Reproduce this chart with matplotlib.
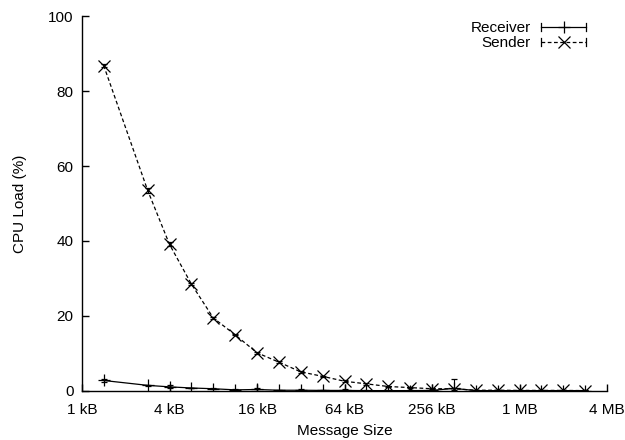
import matplotlib
matplotlib.use("Agg")
from matplotlib import pyplot as plt
from matplotlib.legend_handler import HandlerBase
from matplotlib.lines import Line2D

plt.rcParams['font.family'] = ['Liberation Sans', 'DejaVu Sans']

# message sizes in kB (two per octave)
sizes = [1.41, 2.83, 4, 5.66, 8, 11.3, 16, 22.6, 32, 45.3, 64, 90.5,
         128, 181, 256, 362, 512, 724, 1024, 1448, 2048, 2896]

sender = [86.8, 53.5, 39.1, 28.5, 19.5, 15.0, 10.2, 7.7, 5.1, 3.9, 2.6, 1.9,
          1.2, 0.9, 0.6, 0.6, 0.2, 0.2, 0.15, 0.15, 0.15, 0.1]
sender_err = [0.3, 0.6, 0.5, 0.3, 0.3, 0.2, 0.3, 0.2, 0.2, 0.2, 0.2, 0.2,
              0.2, 0.2, 0.2, 0.3, 0.1, 0.1, 0.1, 0.1, 0.1, 0.1]

receiver = [2.8, 1.5, 1.1, 0.8, 0.6, 0.3, 0.4, 0.2, 0.2, 0.15, 0.15, 0.1,
            0.1, 0.1, 0.15, 0.7, 0.1, 0.1, 0.1, 0.1, 0.1, 0.1]
receiver_err = [0.4, 0.1, 0.4, 0.1, 0.2, 0.1, 0.3, 0.1, 0.2, 0.1, 0.3, 0.1,
                0.2, 0.1, 0.1, 2.6, 0.1, 0.1, 0.1, 0.1, 0.1, 0.1]

tick_pos = [1, 4, 16, 64, 256, 1024, 4096]
tick_labels = ["1 kB", "4 kB", "16 kB", "64 kB", "256 kB", "1 MB", "4 MB"]


# gnuplot-like legend sample: line with caps at both ends and marker in middle
class ErrLineHandler(HandlerBase):
	def __init__(self, marker, ls):
		super().__init__()
		self.marker = marker
		self.ls = ls

	def create_artists(self, legend, orig_handle, xdescent, ydescent,
	                   width, height, fontsize, trans):
		y = height / 2 - ydescent
		cap = height * 0.35
		x0, x1 = -xdescent, width - xdescent
		line = Line2D([x0, x1], [y, y], color="black", lw=0.9, ls=self.ls,
		              dashes=(3, 2) if self.ls == "--" else (None, None))
		c1 = Line2D([x0, x0], [y - cap, y + cap], color="black", lw=0.9)
		c2 = Line2D([x1, x1], [y - cap, y + cap], color="black", lw=0.9)
		m = Line2D([(x0 + x1) / 2], [y], marker=self.marker, color="black",
		           ms=9 if self.marker == "x" else 8, mew=0.9, ls="none")
		for a in (line, c1, c2, m):
			a.set_transform(trans)
		return [line, c1, c2, m]


fig = plt.figure(figsize=(6.25, 4.4), dpi=100)
ax = fig.add_axes([0.1312, 0.1114, 0.84, 0.8522])

r = ax.errorbar(sizes, receiver, yerr=receiver_err, color="black", lw=0.9,
                marker="+", ms=8, mew=0.9, capsize=2.5, elinewidth=0.8,
                capthick=0.8)
s = ax.errorbar(sizes, sender, yerr=sender_err, color="black", lw=0.9,
                ls=(0, (3, 2)), marker="x", ms=9, mew=0.9, capsize=2.5,
                elinewidth=0.8, capthick=0.8)

ax.set_xscale("log", base=2)
ax.set_xlim(1, 4096)
ax.set_ylim(0, 100)
ax.set_xticks(tick_pos)
ax.set_xticklabels(tick_labels)
ax.minorticks_off()
ax.set_yticks([0, 20, 40, 60, 80, 100])

for side in ("top", "right"):
	ax.spines[side].set_visible(False)
for side in ("left", "bottom"):
	ax.spines[side].set_linewidth(1.0)
ax.tick_params(direction="in", length=5, width=1.0, labelsize=11)
ax.tick_params(axis="x", pad=9)
ax.tick_params(axis="y", pad=6)

ax.set_xlabel("Message Size", fontsize=11, labelpad=5)
ax.set_ylabel("CPU Load (%)", fontsize=11, labelpad=15)

h1 = Line2D([], [])
h2 = Line2D([], [])
ax.legend([h1, h2], ["Receiver", "Sender"], loc="upper right",
          bbox_to_anchor=(0.977, 1.01), frameon=False, markerfirst=False,
          fontsize=11, handlelength=2.9, handletextpad=0.7, labelspacing=0.05,
          borderaxespad=0.2,
          handler_map={h1: ErrLineHandler("+", "-"),
                       h2: ErrLineHandler("x", "--")})

fig.savefig("out.png", dpi=100)
